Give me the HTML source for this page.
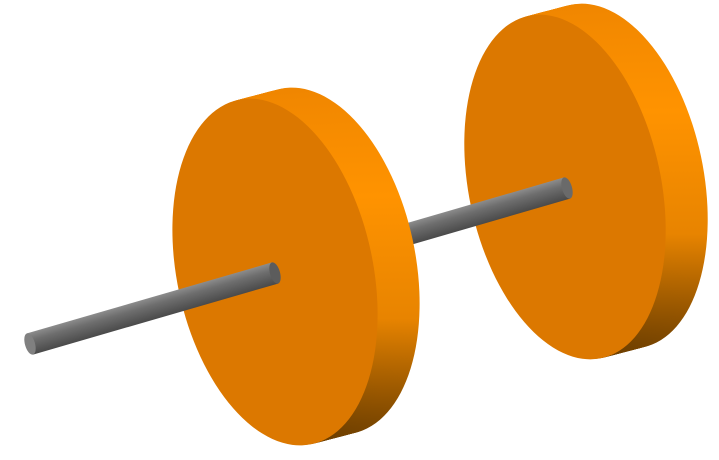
<!DOCTYPE html>
<html>
<head>
<meta charset="utf-8">
<style>
html,body{margin:0;padding:0;background:#fff;}
svg{display:block;}
</style>
</head>
<body>
<svg id="scene" width="719" height="460" viewBox="0 0 719 460" xmlns="http://www.w3.org/2000/svg">
<defs>
<linearGradient id="rimL" gradientUnits="userSpaceOnUse" x1="0" y1="90" x2="0" y2="445">
<stop offset="0" stop-color="#f08600"/>
<stop offset="0.35" stop-color="#ff9300"/>
<stop offset="0.7" stop-color="#e88400"/>
<stop offset="1" stop-color="#6e3f00"/>
</linearGradient>
<linearGradient id="rimR" gradientUnits="userSpaceOnUse" x1="0" y1="5" x2="0" y2="360">
<stop offset="0" stop-color="#f08600"/>
<stop offset="0.35" stop-color="#ff9300"/>
<stop offset="0.7" stop-color="#e88400"/>
<stop offset="1" stop-color="#6e3f00"/>
</linearGradient>
<linearGradient id="rod" x1="0" y1="0" x2="0" y2="1">
<stop offset="0" stop-color="#8c8c8c"/>
<stop offset="0.35" stop-color="#6e6e6e"/>
<stop offset="1" stop-color="#4a4a4a"/>
</linearGradient>
</defs>
<g id="wheelR"></g>
<g id="rodMid"></g>
<g id="wheelL"></g>
<g id="rodLeft"></g>
</svg>
<script>
var NS='http://www.w3.org/2000/svg';
function wheel(g,cx,cy,rx,ry,rot,dx,dy,grad){
  var n=30;
  for(var i=n;i>=1;i--){
    var e=document.createElementNS(NS,'ellipse');
    
    
    var t=i/n;
    e.setAttribute('cx',cx+dx*t);e.setAttribute('cy',cy+dy*t);
    e.setAttribute('rx',rx);e.setAttribute('ry',ry);
    e.setAttribute('transform','rotate('+rot+' '+(cx+dx*t)+' '+(cy+dy*t)+')');
    e.setAttribute('fill','url(#'+grad+')');
    g.appendChild(e);
  }
  var f=document.createElementNS(NS,'ellipse');
  
  
  f.setAttribute('cx',cx);f.setAttribute('cy',cy);
  f.setAttribute('rx',rx);f.setAttribute('ry',ry);
  f.setAttribute('transform','rotate('+rot+' '+cx+' '+cy+')');
  f.setAttribute('fill','#dc7800');
  g.appendChild(f);
}
function rod(g,x1,y1,x2,y2,w,capL,capR){
  var ang=Math.atan2(y2-y1,x2-x1)*180/Math.PI;
  var len=Math.hypot(x2-x1,y2-y1);
  var r=document.createElementNS(NS,'rect');
  
  
  r.setAttribute('x',0);r.setAttribute('y',-w/2);
  r.setAttribute('width',len);r.setAttribute('height',w);
  r.setAttribute('fill','url(#rod)');
  r.setAttribute('transform','translate('+x1+' '+y1+') rotate('+ang+')');
  g.appendChild(r);
  if(capR){
    var e=document.createElementNS(NS,'ellipse');
    
    
    e.setAttribute('cx',0);e.setAttribute('cy',0);
    e.setAttribute('rx',5);e.setAttribute('ry',w/2);
    e.setAttribute('fill',capR);
    e.setAttribute('transform','translate('+x2+' '+y2+') rotate('+ang+')');
    g.appendChild(e);
  }
  if(capL){
    var c=document.createElementNS(NS,'ellipse');
    
    
    c.setAttribute('cx',0);c.setAttribute('cy',0);
    c.setAttribute('rx',5);c.setAttribute('ry',w/2);
    c.setAttribute('fill',capL);
    c.setAttribute('transform','translate('+x1+' '+y1+') rotate('+ang+')');
    g.appendChild(c);
  }
}
wheel(document.getElementById('wheelR'),565,187,96,175,-12,42,-11,'rimR');
rod(document.getElementById('rodMid'),278,272,567,188,22,null,'#6a6a6a');
wheel(document.getElementById('wheelL'),275,272,98,176,-12,42,-11,'rimL');
rod(document.getElementById('rodLeft'),30,344,275,273,22,'#808080','#5c5c5c');
</script>
</body>
</html>
